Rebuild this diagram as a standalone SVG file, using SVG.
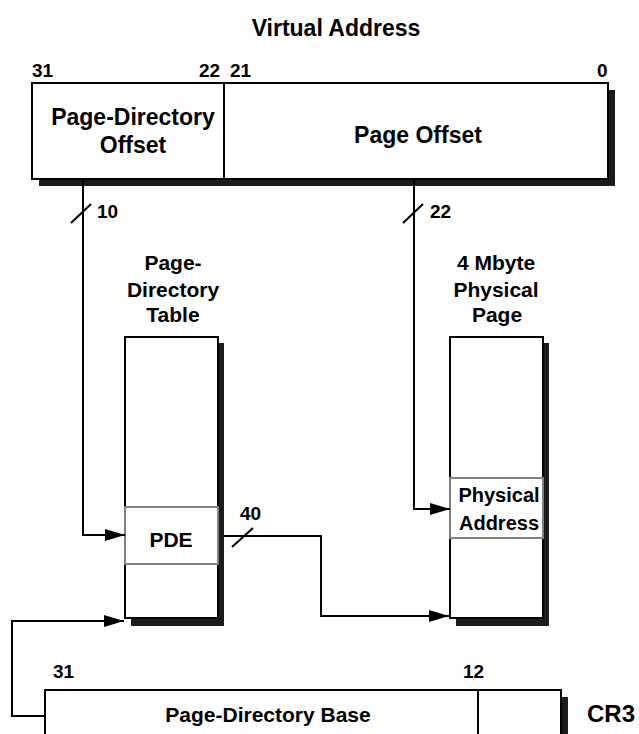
<svg xmlns="http://www.w3.org/2000/svg" width="639" height="734" viewBox="0 0 639 734">
<style>
text{font-family:"Liberation Sans",Arial,sans-serif;font-weight:bold;fill:#000}
.box{fill:#fff;stroke:#000;stroke-width:2}
.entry{fill:#fff;stroke:#808080;stroke-width:2}
.shadow{fill:#1c1c1c}
.wire{fill:none;stroke:#000;stroke-width:2}
.big{font-size:23px}
.lbl{font-size:21px}
.bit{font-size:19px}
.mid{text-anchor:middle}
</style>
<defs>
<marker id="ah" markerWidth="20" markerHeight="12" refX="20" refY="6" orient="auto" markerUnits="userSpaceOnUse">
<path d="M0,0 L20,6 L0,12 Z" fill="#000"/>
</marker>
</defs>
<rect width="639" height="734" fill="#fff"/>

<g id="virtual-address">
<text class="big mid" x="336" y="36">Virtual Address</text>
<text class="bit" x="32" y="77">31</text>
<text class="bit" x="199" y="77">22</text>
<text class="bit" x="230" y="77">21</text>
<text class="bit" x="597" y="77">0</text>
<rect class="shadow" x="39" y="90" width="576" height="96"/>
<rect class="box" x="32" y="83" width="576" height="96"/>
<line x1="224" y1="83" x2="224" y2="179" stroke="#000" stroke-width="2"/>
<text class="big mid" x="133" y="125">Page-Directory</text>
<text class="big mid" x="133" y="153">Offset</text>
<text class="big mid" x="418" y="143">Page Offset</text>
</g>

<g id="page-directory-table">
<text class="lbl mid" x="173" y="270">Page-</text>
<text class="lbl mid" x="173" y="297">Directory</text>
<text class="lbl mid" x="173" y="322">Table</text>
<rect class="shadow" x="131" y="343" width="93" height="283"/>
<rect class="box" x="125" y="337" width="93" height="281"/>
</g>

<g id="pde">
<rect class="entry" x="125" y="507" width="93" height="57"/>
<text class="lbl mid" x="171" y="547">PDE</text>
</g>

<g id="physical-page">
<text class="lbl mid" x="496" y="270">4 Mbyte</text>
<text class="lbl mid" x="496" y="297">Physical</text>
<text class="lbl mid" x="497" y="322">Page</text>
<rect class="shadow" x="456" y="343" width="93" height="283"/>
<rect class="box" x="450" y="337" width="93" height="281"/>
</g>

<g id="physical-address">
<rect class="entry" x="450" y="478" width="93" height="60"/>
<text class="bit mid" x="499" y="502" style="font-size:20px">Physical</text>
<text class="bit mid" x="499" y="530" style="font-size:20px">Address</text>
</g>

<g id="cr3">
<text class="bit" x="53" y="678">31</text>
<text class="bit" x="463" y="678">12</text>
<rect class="shadow" x="52" y="697" width="516" height="60"/>
<rect class="box" x="45" y="690" width="516" height="60"/>
<line x1="478" y1="690" x2="478" y2="734" stroke="#000" stroke-width="2"/>
<text class="lbl mid" x="268" y="722">Page-Directory Base</text>
<text class="mid" x="611" y="722" style="font-size:24px">CR3</text>
</g>

<g id="connectors">
<path class="wire" d="M83,179 V535 H125" marker-end="url(#ah)"/>
<line class="wire" x1="71" y1="223" x2="91" y2="204"/>
<text class="bit" x="97" y="218">10</text>
<path class="wire" d="M414,179 V509 H450" marker-end="url(#ah)"/>
<line class="wire" x1="403" y1="223" x2="423" y2="204"/>
<text class="bit" x="430" y="218">22</text>
<path class="wire" d="M224,536 H321 V616 H449" marker-end="url(#ah)"/>
<line class="wire" x1="232" y1="547" x2="253" y2="528"/>
<text class="bit" x="240" y="520">40</text>
<path class="wire" d="M45,716 H12 V621 H124" marker-end="url(#ah)"/>
</g>
</svg>
